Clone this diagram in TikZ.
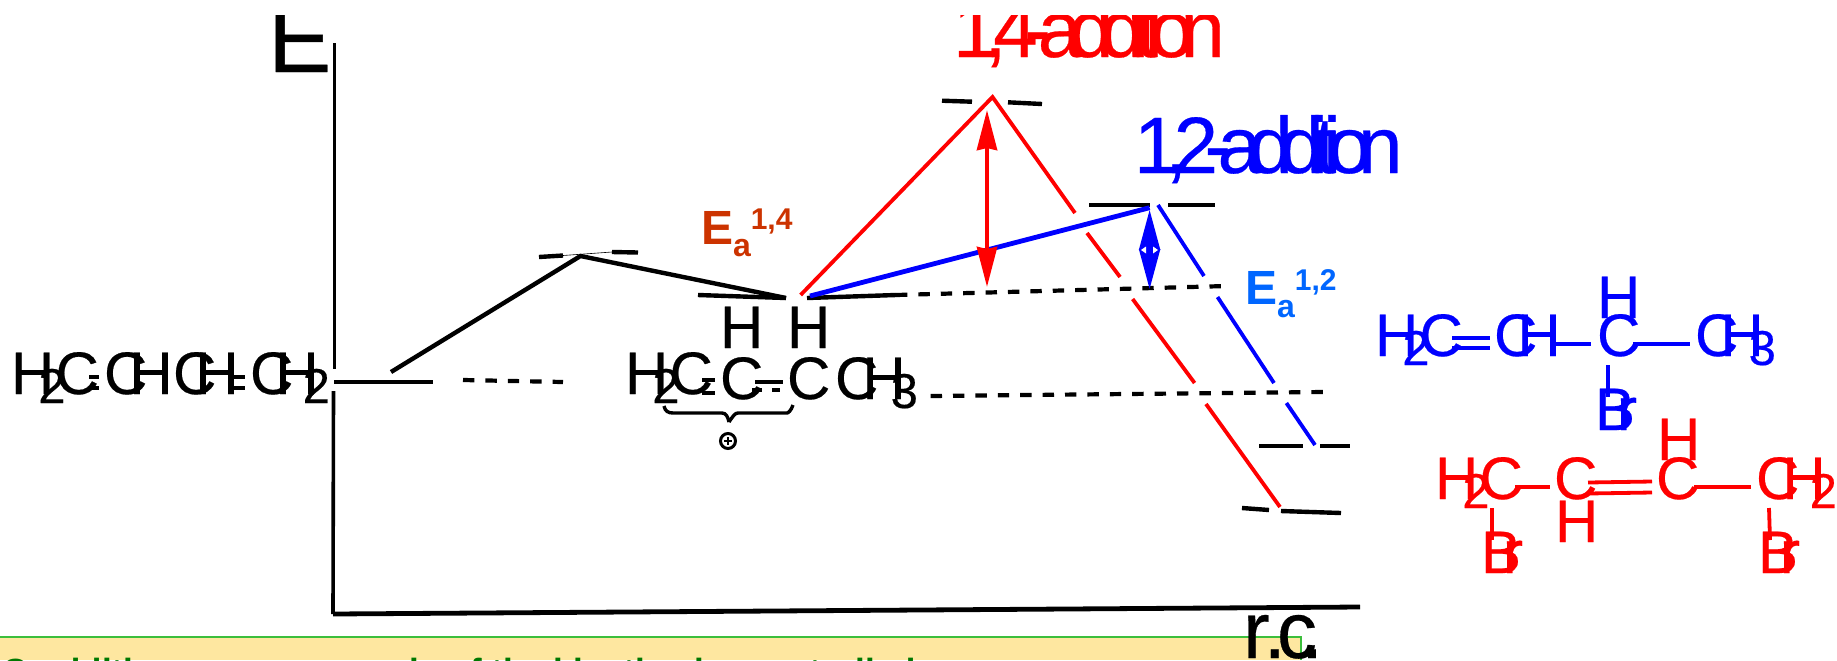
\documentclass[tikz,border=0pt]{standalone}
\usepackage{fontspec}
\usetikzlibrary{arrows.meta}
\setmainfont{Liberation Sans}
\newfontfamily\chemf[FakeBold=0.35]{Liberation Sans}
\newfontfamily\tightblue[LetterSpace=-17,FakeBold=0.35]{Liberation Sans}
\newfontfamily\tightred[LetterSpace=-16.6,FakeBold=0.35]{Liberation Sans}
\newdimen\pxu \pxu=.5pt
\newcommand\fsz[1]{\fontsize{#1}{#1}\selectfont}
\newcommand\K[1]{\kern#1\pxu}
\newcommand\subt[1]{\raisebox{-9\pxu}{\fsz{24.5}#1}}
\newcommand\HtwoC{H\K{-16}\subt{2}\K{-10}C}
\definecolor{bannerfill}{RGB}{254,231,160}
\definecolor{bannerline}{RGB}{60,190,60}
\definecolor{bannertext}{RGB}{0,120,0}
\definecolor{eaorange}{RGB}{204,51,0}
\definecolor{eablue}{RGB}{0,102,255}
\definecolor{pureblue}{RGB}{0,0,255}
\tikzset{
  chem/.style={anchor=base west,inner sep=0pt,outer sep=0pt,font=\chemf\fsz{30}},
  blk/.style={chem,text=black},
  blu/.style={chem,text=pureblue},
  rd/.style={chem,text=red},
  bondk/.style={black,line width=1.9pt},
  bondb/.style={pureblue,line width=1.9pt},
  bondr/.style={red,line width=1.9pt},
  level/.style={black,line width=2.2pt},
  axis/.style={black,line width=1.8pt},
  dashlevel/.style={black,line width=2.1pt,dash pattern=on 5.7pt off 5.5pt},
  pathred/.style={red,line width=1.9pt},
  pathblue/.style={pureblue,line width=1.9pt},
  eaw/.style={anchor=base west,inner sep=0pt,outer sep=0pt,font=\bfseries\fsz{24}},
  bannertxt/.style={anchor=base west,inner sep=0pt,outer sep=0pt,text=bannertext,font=\bfseries\fsz{17.5}},
}
\begin{document}
\begin{tikzpicture}[x=.5pt,y=-.5pt]
\useasboundingbox (0,0) rectangle (1837,660);
% banner
\fill[bannerfill] (0,637) rectangle (1300.5,660);
\draw[bannerline,line width=1pt] (0,637) -- (1300.5,637) -- (1300.5,660);
\node[bannertxt] (b1) at (3,683) {C-addition as an};
\node[bannertxt] (b2) at (299,683) {example of the kinetic};
\node[bannertxt] (b3) at (694,683) {is};
\node[bannertxt] (b4) at (747,683) {controlled};
% axes
\coordinate (origin) at (333,614);
\draw[axis] (334.5,43) -- (334.5,369);
\draw[axis] (333.5,391) -- (origin);
\draw[black,line width=2.4pt] (origin) -- (1360,607);
% profile black
\coordinate (r1) at (334,382);
\coordinate (r2) at (433,382);
\coordinate (ts1) at (580.5,256);
\coordinate (imL) at (786,298);
\coordinate (imR) at (807,298);
\draw[level] (r1) -- (r2);
\draw[dashlevel] (463,380) -- (563,382);
\draw[level] (391,372) -- (ts1) -- (imL);
\draw[level] (539,257) -- (563,255.5);
\draw[level] (612,252) -- (638,252.5);
\draw[black,line width=.3pt] (563,255.5) -- (612,252);
\draw[level] (698,295) -- (imL);
\draw[level] (imR) -- (896,295);
\draw[dashlevel] (896,295) -- (1227,286);
\draw[dashlevel] (930.6,396) -- (1324,392);
% TS levels
\coordinate (ts14) at (992.5,97);
\coordinate (ts12) at (1149.6,207.7);
\draw[level] (942,100.7) -- (972,101.7);
\draw[level] (1008,102.3) -- (1042,104);
\draw[level] (1089,205) -- (1150,205);
\draw[level] (1168,205) -- (1215,205);
\draw[level] (1259,446) -- (1303,446);
\draw[level] (1320,446) -- (1350,446);
\draw[level] (1242,508) -- (1269,510);
\draw[level] (1281,511) -- (1341,513);
% red profile
\draw[pathred] (800.6,295) -- (ts14) -- (1075,213);
\draw[pathred] (1087,233) -- (1120,277);
\draw[pathred] (1132.6,299) -- (1194.6,383);
\draw[pathred] (1206,404) -- (1280,507);
% blue profile
\draw[pureblue,line width=2.4pt] (810,296) -- (ts12);
\draw[pathblue] (1158,205) -- (1204,276);
\draw[pathblue] (1217.5,297) -- (1274,383);
\draw[pathblue] (1286.4,403) -- (1315,445);
% double arrows
\draw[red,line width=2.2pt,{Stealth[length=20pt,width=10pt,inset=1pt]}-{Stealth[length=20pt,width=10pt,inset=1pt]}] (987,110) -- (987,287);
\draw[pureblue,line width=1pt,{Stealth[length=20pt,width=10.5pt,inset=0pt]}-{Stealth[length=20pt,width=10.5pt,inset=0pt]}] (1149.6,210) -- (1149.6,289);
\fill[white] (1141,250) -- (1146,246.5) -- (1146,253.5) -- cycle;
\fill[white] (1158,250) -- (1153,246.5) -- (1153,253.5) -- cycle;
% left formula
\node[blk] (f1a) at (11,394) {\HtwoC};
\node[blk] (f1b) at (104,394) {C\K{-18}H};
\node[blk] (f1c) at (173,394) {C\K{-21}H};
\node[blk] (f1d) at (250,394) {C\K{-18}H\K{-16}\subt{2}};
\draw[bondk] (89,377) -- (99,377) (89,388) -- (99,388);
\draw[bondk] (231,377) -- (245,377) (231,388) -- (245,388);
% middle formula
\node[blk] (f2a) at (625,394) {\HtwoC};
\node[blk] (f2b) at (720,399) {C};
\node[blk] (f2c) at (787,399) {C};
\node[blk] (f2d) at (835,399) {C\K{-16}H\K{-15}\subt{3}};
\node[blk] (f2h1) at (720,348) {H};
\node[blk] (f2h2) at (787,348) {H};
\draw[bondk] (702,380) -- (715,380) (702,392.7) -- (715,392.7);
\draw[bondk] (755,382) -- (783,382);
\draw[bondk] (752,390) -- (762,390) (772,390) -- (780,390);
\draw[black,line width=1.7pt] (664,406) .. controls (665,411) and (668,413) .. (673,413) -- (722,413) .. controls (726,413) and (728,417) .. (729,422);
\draw[black,line width=1.7pt] (793,405) .. controls (791,411) and (788,413) .. (787,413) -- (738,413) .. controls (735,413) and (733,416) .. (729,422);
\draw[black,line width=1.5pt] (728,441) circle[radius=7.5];
\draw[black,line width=1.2pt] (724,441) -- (732,441) (728,437) -- (728,445);
% blue formula
\node[blu] (g1) at (1375,356) {\HtwoC};
\node[blu] (g2) at (1494,356) {C\K{-20}H};
\node[blu] (g3) at (1597,356) {C};
\node[blu] (g3h) at (1597,318) {H};
\node[blu] (g4) at (1695,356) {C\K{-18}H\K{-15}\subt{3}};
\node[blu] (g5) at (1595,430) {B\K{-18}r};
\draw[bondb] (1452,338) -- (1490,338) (1452,348) -- (1490,348);
\draw[bondb] (1554,344) -- (1591,344);
\draw[bondb] (1633,344) -- (1690,344);
\draw[bondb] (1608,365) -- (1608,397);
% red formula
\node[rd] (h1) at (1435,499) {\HtwoC};
\node[rd] (h2) at (1554,499) {C};
\node[rd] (h2h) at (1555,542) {H};
\node[rd] (h3) at (1656,499) {C};
\node[rd] (h3h) at (1657,460) {H};
\node[rd] (h4) at (1756,499) {C\K{-17}H\K{-16}\subt{2}};
\node[rd] (h5) at (1481,573) {B\K{-18}r};
\node[rd] (h6) at (1758,573) {B\K{-18}r};
\draw[bondr] (1515,487) -- (1550,487);
\draw[bondr] (1588,482.5) -- (1652,481.5) (1588,493.5) -- (1652,492.5);
\draw[bondr] (1694,487) -- (1751,487);
\draw[bondr] (1492,508) -- (1492,540);
\draw[bondr] (1769,508) -- (1770,540);
% Ea labels
\node[eaw,text=eaorange] (ea14) at (701,244) {E\raisebox{-12\pxu}{\fsz{16}a}\raisebox{15\pxu}{\fsz{15}1,4}};
\node[eaw,text=eablue] (ea12) at (1245,304) {E\raisebox{-13\pxu}{\fsz{16}a}\raisebox{14\pxu}{\fsz{15}1,2}};
% titles
\node[chem,text=pureblue,font=\tightblue\fsz{40}] (add12) at (1134,173) {1,2-addition};
\node[chem,text=red,font=\tightred\fsz{40}] (add14) at (953,57) {1,4-addition};
\node[chem,font=\chemf\fsz{47.5}] (Elab) at (268,72) {E};
\node[chem,font=\chemf\fsz{40}] (rc) at (1243,658) {r\K{-6}.\K{-9}c\K{-16}.};
% cut-off at the top of the picture
\fill[white] (0,0) rectangle (1837,15);
\end{tikzpicture}
\end{document}
